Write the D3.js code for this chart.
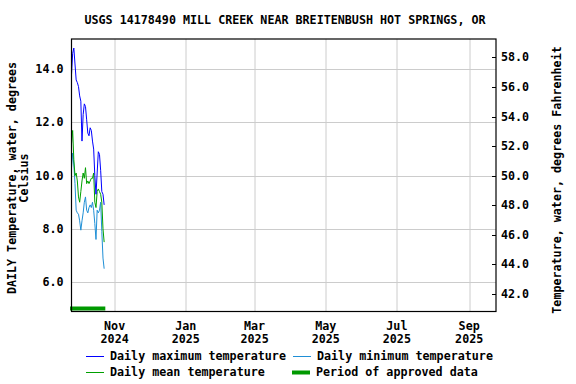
<!DOCTYPE html>
<html>
<head>
<meta charset="utf-8">
<script src="https://cdn.jsdelivr.net/npm/d3@7"></script>
<style>
  body { margin: 0; background: #fff; }
  svg text { font-family: "DejaVu Sans Mono", monospace; font-weight: bold; font-size: 11.7px; fill: #000; }
</style>
</head>
<body>
<svg id="chart" width="576" height="384"></svg>
<script>
// Daily values, Sep 25 - Oct 23 2024 (deg C)
const startDate = "2024-09-25";
const maxTemp = [13.8, 14.6, 14.8, 14.2, 13.6, 13.5, 13.35, 13.0, 12.8, 11.3,
                 12.3, 12.7, 12.6, 12.1, 11.6, 11.5, 11.8, 11.7, 11.3, 11.0,
                 10.0, 9.3, 10.1, 10.9, 10.8, 10.2, 9.4, 9.3, 8.9];
const minTemp = [10.3, 10.85, 10.4, 9.7, 8.7, 8.6, 8.55, 8.3, 7.95, 8.3,
                 8.6, 9.0, 9.2, 8.7, 8.6, 8.8, 8.9, 8.8, 9.0, 8.7,
                 8.2, 7.6, 8.7, 8.6, 8.7, 9.0, 7.9, 6.9, 6.5];
const meanTemp = [11.2, 11.7, 10.6, 10.0, 10.1, 9.8, 9.2, 9.0, 9.4, 9.8,
                  10.1, 9.9, 10.3, 9.7, 9.8, 9.7, 9.8, 9.9, 9.9, 10.1,
                  9.0, 8.8, 9.4, 9.5, 9.4, 9.3, 9.0, 8.0, 7.5];
const approvedPeriod = ["2024-09-25", "2024-10-24"];
const xTicks = ["2024-11-01", "2025-01-01", "2025-03-01", "2025-05-01", "2025-07-01", "2025-09-01"];
const yTicksC = [6, 8, 10, 12, 14];
const yTicksF = [42, 44, 46, 48, 50, 52, 54, 56, 58];

const parse = d3.utcParse("%Y-%m-%d");
const day0 = parse(startDate);
const dates = maxTemp.map((_, i) => d3.utcDay.offset(day0, i));

const margin = {top: 39, right: 80, bottom: 72.5, left: 71.5};
const W = 576, H = 384;
const width = W - margin.left - margin.right;
const height = H - margin.top - margin.bottom;

const svg = d3.select("#chart");
const g = svg.append("g").attr("transform", `translate(${margin.left},${margin.top})`);

const x = d3.scaleUtc()
    .domain([parse("2024-09-25"), parse("2025-09-24")])
    .range([0, width]);
const y = d3.scaleLinear().domain([4.89, 15.14]).range([height, 0]);
const yF = d3.scaleLinear().domain(y.domain().map(c => c * 1.8 + 32)).range([height, 0]);

// Grid
g.append("g").selectAll("line").data(yTicksC).join("line")
    .attr("x1", 0).attr("x2", width)
    .attr("y1", d => Math.round(y(d)) + 0.5).attr("y2", d => Math.round(y(d)) + 0.5)
    .attr("stroke", "#cccccc");
g.append("g").selectAll("line").data(xTicks.map(parse)).join("line")
    .attr("x1", d => Math.round(x(d)) + 0.5).attr("x2", d => Math.round(x(d)) + 0.5)
    .attr("y1", 0).attr("y2", height)
    .attr("stroke", "#cccccc");

// Left axis labels
g.append("g").selectAll("text").data(yTicksC).join("text")
    .attr("x", -8).attr("y", d => y(d) + 4)
    .attr("text-anchor", "end")
    .text(d => d.toFixed(1));

// Right axis ticks + labels
const right = g.append("g").attr("transform", `translate(${width},0)`);
right.selectAll("line").data(yTicksF).join("line")
    .attr("x1", -4).attr("x2", 0)
    .attr("y1", d => Math.round(yF(d)) + 0.5).attr("y2", d => Math.round(yF(d)) + 0.5)
    .attr("stroke", "#000");
right.selectAll("text").data(yTicksF).join("text")
    .attr("x", 5).attr("y", d => yF(d) + 4)
    .text(d => d.toFixed(1));

// X labels
const fmtM = d3.utcFormat("%b"), fmtY = d3.utcFormat("%Y");
const xl = g.append("g").selectAll("g").data(xTicks.map(parse)).join("g")
    .attr("transform", d => `translate(${x(d)},${height})`);
xl.append("text").attr("y", 18.5).attr("text-anchor", "middle").text(d => fmtM(d));
xl.append("text").attr("y", 31.5).attr("text-anchor", "middle").text(d => fmtY(d));

// Lines
const line = vals => d3.line()
    .x((d, i) => x(dates[i]))
    .y(d => y(d))(vals);

g.append("path").attr("d", line(minTemp))
    .attr("fill", "none").attr("stroke", "#1f8fd6").attr("stroke-width", 1);
g.append("path").attr("d", line(meanTemp))
    .attr("fill", "none").attr("stroke", "#00a000").attr("stroke-width", 1);
g.append("path").attr("d", line(maxTemp))
    .attr("fill", "none").attr("stroke", "#0000ff").attr("stroke-width", 1);

// Approved period bar
g.append("line")
    .attr("x1", x(parse(approvedPeriod[0])) - 1.5).attr("x2", x(parse(approvedPeriod[1])))
    .attr("y1", height - 3).attr("y2", height - 3)
    .attr("stroke", "#009900").attr("stroke-width", 4);

// Frame
g.append("rect").attr("x", 0).attr("y", 0).attr("width", width).attr("height", height)
    .attr("fill", "none").attr("stroke", "#000").attr("stroke-width", 1.2);

// Title
svg.append("text").attr("x", 285).attr("y", 24).attr("text-anchor", "middle")
    .text("USGS 14178490 MILL CREEK NEAR BREITENBUSH HOT SPRINGS, OR");

// Axis titles
svg.append("text").attr("transform", "translate(16,178) rotate(-90)")
    .attr("text-anchor", "middle").text("DAILY Temperature, water, degrees");
svg.append("text").attr("transform", "translate(28,178) rotate(-90)")
    .attr("text-anchor", "middle").text("Celsius");
svg.append("text").attr("transform", "translate(561,180) rotate(-90)")
    .attr("text-anchor", "middle").text("Temperature, water, degrees Fahrenheit");

// Legend
const legend = [
  {label: "Daily maximum temperature", color: "#0000ff", w: 1, x: 86, y: 356},
  {label: "Daily minimum temperature", color: "#1f8fd6", w: 1, x: 293, y: 356},
  {label: "Daily mean temperature", color: "#00a000", w: 1, x: 86, y: 372},
  {label: "Period of approved data", color: "#009900", w: 4, x: 292, y: 372}
];
const lg = svg.append("g").selectAll("g").data(legend).join("g")
    .attr("transform", d => `translate(${d.x},${d.y})`);
lg.append("line").attr("x1", 0).attr("x2", 18).attr("y1", 0.5).attr("y2", 0.5)
    .attr("stroke", d => d.color).attr("stroke-width", d => d.w);
lg.append("text").attr("x", 24).attr("y", 4).text(d => d.label);
</script>
</body>
</html>
